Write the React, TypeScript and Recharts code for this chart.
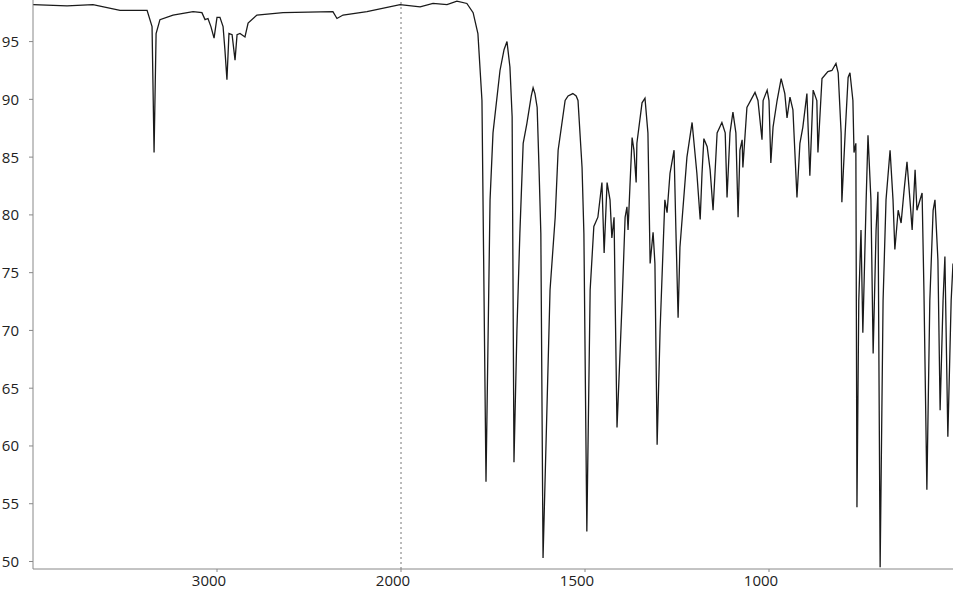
import { LineChart, Line, XAxis, YAxis, ReferenceLine } from "recharts";

// wavenumber (cm-1), left to right
const wavenumbers = [
  4000, 3815, 3674, 3527, 3380, 3353, 3342, 3331, 3310, 3239, 3130, 3082, 3065, 3049,
  3033, 3016, 3000, 2984, 2967, 2957, 2946, 2935, 2918, 2902, 2891, 2875, 2848, 2831,
  2783, 2641, 2370, 2348, 2315, 2185, 2005, 1948, 1913, 1875, 1848, 1821, 1804, 1791,
  1780, 1769, 1758, 1750, 1731, 1720, 1712, 1704, 1698, 1693, 1685, 1677, 1668, 1658, 1646, 1641,
  1636, 1630, 1625, 1620, 1614, 1595, 1581, 1573, 1554, 1546, 1533, 1524, 1519, 1508, 1503, 1495, 1486,
  1476, 1465, 1454, 1448, 1440, 1432, 1427, 1421, 1418, 1413, 1399, 1391, 1386, 1383,
  1378, 1372, 1367, 1361, 1359, 1345, 1337, 1329, 1323, 1315, 1310, 1304, 1296, 1283,
  1277, 1269, 1258, 1253, 1247, 1242, 1223, 1209, 1196, 1187, 1182, 1177, 1168, 1160,
  1152, 1141, 1128, 1119, 1114, 1106, 1098, 1090, 1084, 1079, 1073, 1071, 1060, 1038,
  1030, 1019, 1016, 1005, 1000, 995, 989, 978, 967, 957, 951, 943, 935, 924, 916, 908,
  897, 889, 880, 870, 867, 856, 840, 829, 818, 812, 804, 802, 793, 785, 780, 772, 769,
  764, 761, 756, 750, 745, 736, 731, 723, 717, 709, 704, 698, 690, 682, 671, 663, 658,
  649, 641, 633, 625, 617, 611, 603, 598, 584, 579, 571, 563, 554, 549, 541, 535, 527,
  522, 514, 505, 500,
];

// % transmittance at each wavenumber
const transmittance = [
  98.2, 98.1, 98.2, 97.7, 97.7, 96.3, 85.4, 95.7, 96.9, 97.3, 97.6, 97.5, 96.9, 97.0,
  96.3, 95.3, 97.1, 97.1, 96.3, 94.3, 91.7, 95.7, 95.6, 93.4, 95.6, 95.7, 95.4, 96.6,
  97.3, 97.5, 97.6, 97.0, 97.3, 97.6, 98.2, 98.0, 98.3, 98.2, 98.5, 98.3, 97.5, 95.7,
  89.9, 56.9, 81.3, 87.1, 92.5, 94.3, 95.0, 92.8, 88.5, 58.6, 70.0, 78.4, 86.2, 87.9, 90.3, 91.0,
  90.5, 89.3, 84.1, 78.4, 50.3, 73.5, 79.8, 85.6, 89.9, 90.3, 90.5, 90.3, 89.9, 84.1, 78.4, 52.6, 73.5,
  79.0, 79.8, 82.8, 76.7, 82.8, 81.3, 78.0, 79.8, 72.6, 61.6, 72.6, 79.8, 80.7, 78.7,
  82.4, 86.7, 85.6, 82.8, 86.2, 89.7, 90.1, 87.1, 75.8, 78.5, 75.8, 60.1, 70.0, 81.3,
  80.2, 83.6, 85.6, 78.7, 71.1, 77.2, 85.0, 88.0, 83.6, 79.6, 83.6, 86.6, 85.9, 83.9,
  80.4, 87.1, 88.0, 87.1, 81.5, 87.1, 88.9, 87.1, 79.8, 85.6, 86.5, 84.1, 89.3, 90.6,
  89.9, 86.5, 89.9, 90.8, 89.9, 84.5, 87.6, 89.9, 91.8, 90.5, 88.4, 90.2, 89.1, 81.5, 86.2, 87.6,
  90.5, 83.4, 90.8, 89.9, 85.4, 91.8, 92.4, 92.5, 93.1, 92.3, 87.1, 81.1, 87.1, 91.9, 92.3, 89.9, 85.4,
  86.2, 54.7, 72.6, 78.7, 69.8, 81.3, 86.9, 81.3, 68.0, 78.7, 82.0, 49.5, 72.6, 81.3, 85.6, 81.3, 77.0,
  80.4, 79.3, 82.1, 84.6, 81.3, 78.7, 83.9, 80.4, 81.9, 73.5, 56.2, 72.6, 80.4, 81.3, 76.1, 63.1, 72.6,
  76.4, 60.8, 72.6, 75.8,
];

const yTicks = [50, 55, 60, 65, 70, 75, 80, 85, 90, 95];
const xTickLabels = [3000, 2000, 1500, 1000];

// the instrument doubles the scale below 2000 cm-1
const toPos = (wn: number) => (wn >= 2000 ? (4000 - wn) / 2 : 1000 + (2000 - wn));

const data = wavenumbers.map((wn, i) => ({ pos: toPos(wn), t: transmittance[i] }));

const font = "'Open Sans', 'DejaVu Sans', sans-serif";

const YTick = (props: any) => {
  const { y, payload } = props;
  return (
    <text x={19} y={y} dy="0.36em" textAnchor="end" fontSize={15} fontFamily={font} fill="#222">
      {payload.value}
    </text>
  );
};

const XTick = (props: any) => {
  const { x, payload } = props;
  const label = xTickLabels.find((w) => toPos(w) === payload.value);
  return (
    <text x={x - 8} y={586} textAnchor="middle" fontSize={15} fontFamily={font} fill="#222">
      {label}
    </text>
  );
};

export default function App() {
  return (
    <div style={{ position: "absolute", left: 0, top: 0, width: 956, height: 590, background: "#fff" }}>
      <LineChart width={956} height={590} data={data} margin={{ top: 0, right: 3, left: 0, bottom: 0 }}>
        <XAxis
          type="number"
          dataKey="pos"
          domain={[0, 2500]}
          ticks={xTickLabels.map(toPos)}
          tick={<XTick />}
          tickSize={3}
          height={21}
          stroke="#888"
          allowDataOverflow
        />
        <YAxis
          type="number"
          domain={[49.35, 98.6]}
          ticks={yTicks}
          tick={<YTick />}
          tickSize={4}
          width={33}
          stroke="#888"
          allowDataOverflow
        />
        <ReferenceLine x={toPos(2000)} stroke="#777" strokeDasharray="2 3" />
        <Line
          type="linear"
          dataKey="t"
          stroke="#1a1a1a"
          strokeWidth={1.3}
          dot={false}
          isAnimationActive={false}
        />
      </LineChart>
    </div>
  );
}
